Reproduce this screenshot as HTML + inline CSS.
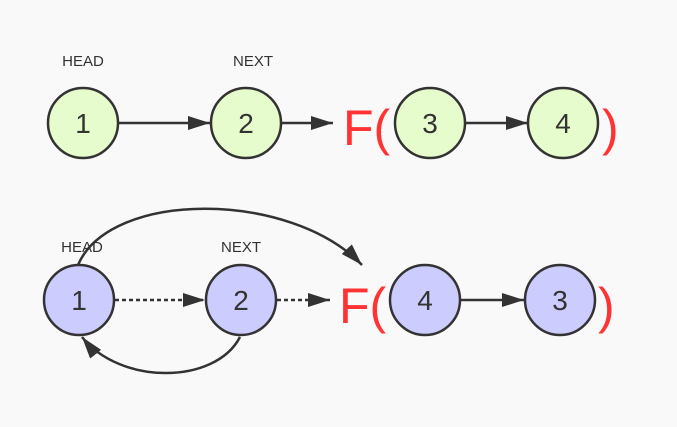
<!DOCTYPE html>
<html><head><style>
html,body{margin:0;padding:0;background:#f9f9f9;}
svg{display:block;}
</style></head><body>
<svg width="677" height="427" viewBox="0 0 677 427" xmlns="http://www.w3.org/2000/svg">
<defs>
<marker id="a" markerWidth="10" markerHeight="8" refX="9" refY="4" orient="auto" markerUnits="userSpaceOnUse" viewBox="0 0 10 8">
<path d="M0,0 L10,4 L0,8 Z" fill="#333"/>
</marker>
<marker id="b" markerWidth="24" markerHeight="14" refX="22" refY="7" orient="auto" markerUnits="userSpaceOnUse">
<path d="M0,0 L22,7 L0,14 Z" fill="#333"/>
</marker>
</defs>
<rect width="677" height="427" fill="#f9f9f9"/>
<g font-family="Liberation Sans, sans-serif" fill="#333">
<text x="83" y="66" font-size="15" text-anchor="middle">HEAD</text>
<text x="253" y="66" font-size="15" text-anchor="middle">NEXT</text>
<text x="82" y="252" font-size="15" text-anchor="middle">HEAD</text>
<text x="241" y="252" font-size="15" text-anchor="middle">NEXT</text>
</g>
<g stroke="#333" stroke-width="2.5" fill="none">
<line x1="119" y1="123" x2="210" y2="123" marker-end="url(#b)"/>
<line x1="282" y1="123" x2="333" y2="123" marker-end="url(#b)"/>
<line x1="466" y1="123" x2="528" y2="123" marker-end="url(#b)"/>
<line x1="460" y1="300" x2="524" y2="300" marker-end="url(#b)"/>
<line x1="115" y1="300" x2="205" y2="300" stroke-dasharray="4,3" marker-end="url(#b)"/>
<line x1="277" y1="300" x2="330" y2="300" stroke-dasharray="4,3" marker-end="url(#b)"/>
<path d="M78,265 C110,190 290,190 362,265" marker-end="url(#b)"/>
<path d="M240,337 C215,385 120,385 82,337" marker-end="url(#b)"/>
</g>
<g stroke="#333" stroke-width="2.5">
<circle cx="83" cy="123" r="35" fill="#e6fccc"/>
<circle cx="246" cy="123" r="35" fill="#e6fccc"/>
<circle cx="430" cy="123" r="35" fill="#e6fccc"/>
<circle cx="563" cy="123" r="35" fill="#e6fccc"/>
<circle cx="79" cy="300" r="35" fill="#ccccff"/>
<circle cx="241" cy="300" r="35" fill="#ccccff"/>
<circle cx="425" cy="300" r="35" fill="#ccccff"/>
<circle cx="560" cy="300" r="35" fill="#ccccff"/>
</g>
<g font-family="Liberation Sans, sans-serif" font-size="28" fill="#333" text-anchor="middle">
<text x="83" y="133">1</text>
<text x="246" y="133">2</text>
<text x="430" y="133">3</text>
<text x="563" y="133">4</text>
<text x="79" y="310">1</text>
<text x="241" y="310">2</text>
<text x="425" y="310">4</text>
<text x="560" y="310">3</text>
</g>
<g font-family="Liberation Sans, sans-serif" font-size="50" fill="#ff3333">
<text x="343" y="145">F(</text>
<text x="602" y="145">)</text>
<text x="339" y="323">F(</text>
<text x="598" y="323">)</text>
</g>
</svg>
</body></html>
